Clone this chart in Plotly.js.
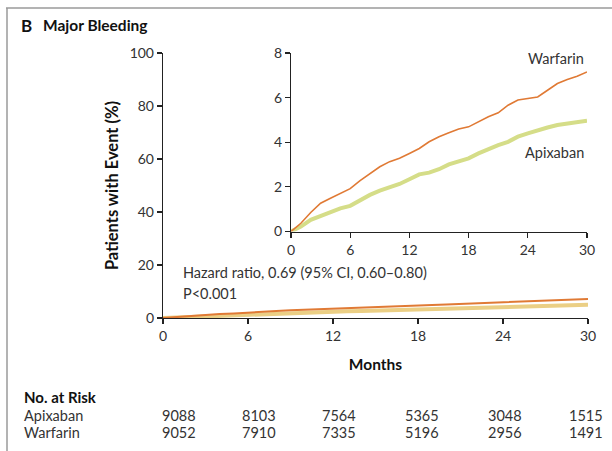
<!DOCTYPE html>
<html>
<head>
<meta charset="utf-8">
<script src="https://cdn.plot.ly/plotly-3.0.1.min.js"></script>
<style>html,body{margin:0;padding:0;background:#fff;}#chart{width:612px;height:451px;}</style>
</head>
<body>
<div id="chart"></div>
<script>
// ---- data ----
const months = [0,1,2,3,4,5,6,7,8,9,10,11,12,13,14,15,16,17,18,19,20,21,22,23,24,25,26,27,28,29,30];
const warfarin = [0,0.37,0.85,1.27,1.49,1.71,1.92,2.28,2.6,2.9,3.13,3.28,3.5,3.72,4.02,4.25,4.43,4.59,4.69,4.92,5.14,5.32,5.66,5.89,5.96,6.03,6.33,6.63,6.81,6.96,7.15];
const apixaban = [0,0.22,0.52,0.7,0.89,1.04,1.15,1.42,1.64,1.83,1.98,2.13,2.34,2.56,2.64,2.79,3.01,3.13,3.28,3.5,3.7,3.87,4.02,4.25,4.4,4.55,4.66,4.77,4.84,4.92,4.96];
const riskMonths = [0,6,12,18,24,30];
const riskApixaban = [9088,8103,7564,5365,3048,1515];
const riskWarfarin = [9052,7910,7335,5196,2956,1491];
const mainTicksY = [0,20,40,60,80,100];
const insetTicksY = [0,2,4,6,8];
const ticksX = [0,6,12,18,24,30];

// ---- layout helpers (pixel -> paper) ----
const W = 612, H = 451, ML = 163, MR = 24, MT = 53, MB = 133;
const PW = W - ML - MR, PH = H - MT - MB;
const px = x => (x - ML) / PW;
const py = y => (H - MB - y) / PH;

const FONT = 'Lato, "Open Sans", sans-serif';
const orange = '#E07A35';
const apixMain = '#EBCF85';
const apixInset = '#D5DD88';
const TXT = 14.5;

const traces = [
  {x: months, y: apixaban, xaxis:'x', yaxis:'y', mode:'lines', line:{color:apixMain, width:4}, hoverinfo:'skip'},
  {x: months, y: warfarin, xaxis:'x', yaxis:'y', mode:'lines', line:{color:orange, width:2}, hoverinfo:'skip'},
  {x: months, y: apixaban, xaxis:'x2', yaxis:'y2', mode:'lines', line:{color:apixInset, width:4}, hoverinfo:'skip'},
  {x: months, y: warfarin, xaxis:'x2', yaxis:'y2', mode:'lines', line:{color:orange, width:1.6}, hoverinfo:'skip'}
];

const axisBase = {
  showgrid:false, zeroline:false, showline:true, linecolor:'#222', linewidth:1.2,
  ticks:'outside', ticklen:5, tickwidth:1.2, tickcolor:'#222',
  tickfont:{family:FONT, size:14, color:'#333'}, fixedrange:true
};

function note(text, x, y, anchor, size, color) {
  return {text:text, x:px(x), y:py(y), xref:'paper', yref:'paper', xanchor:anchor, yanchor:'middle',
          showarrow:false, font:{family:FONT, size:size, color:color}};
}

const annotations = [
  note('<b>B</b>', 19, 25, 'left', 17, '#111'),
  note('<b>Major Bleeding</b>', 41, 25, 'left', 15.5, '#111'),
  note('Hazard ratio, 0.69 (95% CI, 0.60–0.80)', 181, 272, 'left', TXT, '#333'),
  note('P<0.001', 181, 293, 'left', TXT, '#333'),
  note('Warfarin', 586, 58, 'right', TXT, '#333'),
  note('Apixaban', 586, 152, 'right', TXT, '#333'),
  note('<b>No. at Risk</b>', 22, 397, 'left', 15, '#111'),
  note('Apixaban', 22, 415, 'left', TXT, '#333'),
  note('Warfarin', 22, 432, 'left', TXT, '#333')
];
const riskCols = [160, 240, 320, 403, 486, 567];
riskMonths.forEach((m, i) => {
  annotations.push(note(String(riskApixaban[i]), riskCols[i], 415, 'left', TXT, '#333'));
  annotations.push(note(String(riskWarfarin[i]), riskCols[i], 432, 'left', TXT, '#333'));
});

const layout = {
  width: W, height: H,
  margin:{l:ML, r:MR, t:MT, b:MB, pad:0},
  paper_bgcolor:'#fff', plot_bgcolor:'rgba(0,0,0,0)',
  showlegend:false,
  xaxis: Object.assign({}, axisBase, {domain:[0,1], range:[0,30], tickvals:ticksX, anchor:'y',
    title:{text:'<b>Months</b>', font:{family:FONT, size:15.5, color:'#111'}, standoff:16}}),
  yaxis: Object.assign({}, axisBase, {domain:[0,1], range:[0,100], tickvals:mainTicksY, anchor:'x',
    title:{text:'<b>Patients with Event (%)</b>', font:{family:FONT, size:16.5, color:'#111'}, standoff:6}}),
  xaxis2: Object.assign({}, axisBase, {domain:[px(291), 1 - 1/PW], range:[0,30], tickvals:ticksX, anchor:'y2'}),
  yaxis2: Object.assign({}, axisBase, {domain:[py(231.5), 1], range:[0,8], tickvals:insetTicksY, anchor:'x2'}),
  annotations: annotations,
  shapes: [
    {type:'line', xref:'paper', yref:'paper', x0:px(6), x1:px(612), y0:py(8), y1:py(8), line:{color:'#9a9a9a', width:1.5}},
    {type:'line', xref:'paper', yref:'paper', x0:px(7), x1:px(7), y0:py(8), y1:py(451), line:{color:'#9a9a9a', width:1.5}}
  ]
};

Plotly.newPlot('chart', traces, layout, {displayModeBar:false, staticPlot:true});
</script>
</body>
</html>
